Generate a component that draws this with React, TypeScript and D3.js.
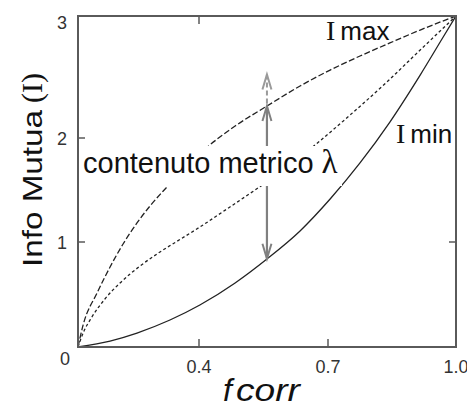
import React from "react";
import * as d3 from "d3";

// ---- data ----
const X_TICKS = [0, 0.4, 0.7, 1.0];
const X_TICK_LABELS = ["0", "0.4", "0.7", "1.0"];
const Y_TICKS = [0, 1, 2, 3];
const Y_TICK_LABELS = ["0", "1", "2", "3"];

const fImax = [0, 0.017, 0.063, 0.106, 0.149, 0.195, 0.238, 0.288, 0.414, 0.484, 0.558, 0.635, 0.705, 0.775, 0.845, 0.916, 1.0];
const iImax = [0, 0.21, 0.514, 0.762, 0.981, 1.183, 1.346, 1.51, 1.894, 2.098, 2.262, 2.426, 2.557, 2.672, 2.779, 2.885, 3.0];

const fMid = [0, 0.017, 0.046, 0.089, 0.139, 0.205, 0.271, 0.337, 0.402, 0.472, 0.537, 0.612, 0.681, 0.752, 0.838, 0.916, 1.0];
const iMid = [0, 0.133, 0.286, 0.457, 0.61, 0.771, 0.905, 1.024, 1.144, 1.337, 1.519, 1.74, 1.971, 2.189, 2.459, 2.721, 3.0];

const fImin = [0, 0.106, 0.195, 0.304, 0.402, 0.484, 0.558, 0.635, 0.705, 0.775, 0.845, 0.916, 0.97, 1.0];
const iImin = [0, 0.057, 0.133, 0.257, 0.4, 0.61, 0.838, 1.106, 1.413, 1.76, 2.131, 2.516, 2.828, 3.0];

const LAMBDA_F = 0.558;
const LAMBDA_LOW = 0.84;
const LAMBDA_HIGH = 2.262;
const LAMBDA_GHOST = 2.52;

const W = 467;
const H = 407;

export default function App() {
  const x = d3.scaleLinear().domain(X_TICKS).range([78, 199, 328, 456]);
  const y = d3.scaleLinear().domain(Y_TICKS).range([347, 242, 138, 16]);

  const mk = (fs: number[], is: number[]) =>
    d3
      .line<number>()
      .x((_, i) => x(fs[i]))
      .y((v) => y(v))
      .curve(d3.curveMonotoneX)(is) || "";

  const pImax = mk(fImax, iImax);
  const pMid = mk(fMid, iMid);
  const pImin = mk(fImin, iImin);

  const ax = x(LAMBDA_F);
  const yLow = y(LAMBDA_LOW);
  const yHigh = y(LAMBDA_HIGH);
  const yGhost = y(LAMBDA_GHOST);

  const x0 = x(0), x1 = x(1), y0 = y(0), y3 = y(3);
  const axisCol = "#5a5a5a";
  const sans = "'Liberation Sans', Arial, sans-serif";
  const serif = "'Liberation Serif', 'Times New Roman', serif";

  const head = (tx: number, ty: number, dir: number) =>
    `M${tx - 4.5},${ty + dir * 15} L${tx},${ty} L${tx + 4.5},${ty + dir * 15}`;

  return (
    <svg
      width={W}
      height={H}
      style={{ position: "absolute", left: 0, top: 0, background: "#fff" }}
    >
      {/* curves */}
      <path d={pImax} fill="none" stroke="#222" strokeWidth={1.3} strokeDasharray="6,2.5" />
      <path d={pMid} fill="none" stroke="#222" strokeWidth={1.3} strokeDasharray="3,2.5" />
      <path d={pImin} fill="none" stroke="#222" strokeWidth={1.3} />

      {/* lambda arrow */}
      <line x1={ax} x2={ax} y1={yGhost} y2={yHigh} stroke="#9a9a9a" strokeWidth={2} strokeDasharray="5,3" />
      <path d={head(ax, yGhost, 1)} fill="none" stroke="#9a9a9a" strokeWidth={2} />
      <line x1={ax} x2={ax} y1={yHigh} y2={yLow} stroke="#808080" strokeWidth={2.2} />
      <path d={head(ax, yHigh, 1)} fill="none" stroke="#808080" strokeWidth={2} />
      <path d={head(ax, yLow, -1)} fill="none" stroke="#808080" strokeWidth={2} />

      {/* label box */}
      <rect x={81} y={146} width={261} height={40} fill="#fff" />
      <text x={83} y={173} fontFamily={sans} fontSize={29} fill="#111">
        contenuto metrico
        <tspan fontFamily={serif} fontSize={33} dx={8}>λ</tspan>
      </text>

      {/* frame */}
      <rect x={x0} y={y3} width={x1 - x0} height={y0 - y3} fill="none" stroke={axisCol} strokeWidth={2} />

      {/* ticks */}
      {[1, 2].map((v) => (
        <line key={"yl" + v} x1={x0} x2={x0 + 7} y1={y(v)} y2={y(v)} stroke={axisCol} strokeWidth={1.5} />
      ))}
      {[1].map((v) => (
        <line key={"yr" + v} x1={x1 - 7} x2={x1} y1={y(v)} y2={y(v)} stroke={axisCol} strokeWidth={1.5} />
      ))}
      {[0.4, 0.7].map((v) => (
        <line key={"xb" + v} x1={x(v)} x2={x(v)} y1={y0} y2={y0 - 8} stroke={axisCol} strokeWidth={1.5} />
      ))}
      {[0.4].map((v) => (
        <line key={"xt" + v} x1={x(v)} x2={x(v)} y1={y3} y2={y3 + 8} stroke={axisCol} strokeWidth={1.5} />
      ))}

      {/* tick labels */}
      {Y_TICKS.map((v, i) =>
        v === 0 ? null : (
          <text
            key={"ytl" + v}
            x={x0 - 11}
            y={v === 3 ? y(v) + 13 : y(v) + 7}
            textAnchor="end"
            fontFamily={sans}
            fontSize={18}
            fill="#333"
          >
            {Y_TICK_LABELS[i]}
          </text>
        )
      )}
      {X_TICKS.map((v, i) => (
        <text
          key={"xtl" + v}
          x={v === 0 ? x(v) - 13 : x(v)}
          y={v === 0 ? y0 + 18 : y0 + 26}
          textAnchor="middle"
          fontFamily={sans}
          fontSize={18}
          fill="#333"
        >
          {X_TICK_LABELS[i]}
        </text>
      ))}

      {/* curve labels */}
      <text x={326} y={40} fontSize={26} fill="#111">
        <tspan fontFamily={serif} fontSize={28}>I</tspan>
        <tspan fontFamily={sans} dx={5}>max</tspan>
      </text>
      <text x={396} y={143} fontSize={26} fill="#111">
        <tspan fontFamily={serif} fontSize={28}>I</tspan>
        <tspan fontFamily={sans} dx={5}>min</tspan>
      </text>

      {/* axis titles */}
      <text
        transform="translate(42,267) rotate(-90)"
        fontFamily={sans}
        fontSize={28}
        fill="#111"
        textLength={157}
        lengthAdjust="spacingAndGlyphs"
      >
        Info Mutua
      </text>
      <text transform="translate(42,103) rotate(-90)" fontFamily={serif} fontSize={30} fill="#111">
        (I)
      </text>
      <text y={401} fontSize={32} fill="#111" fontStyle="italic" fontFamily={sans}>
        <tspan x={223}>f</tspan>
        <tspan x={236} textLength={64} lengthAdjust="spacingAndGlyphs">corr</tspan>
      </text>
    </svg>
  );
}
